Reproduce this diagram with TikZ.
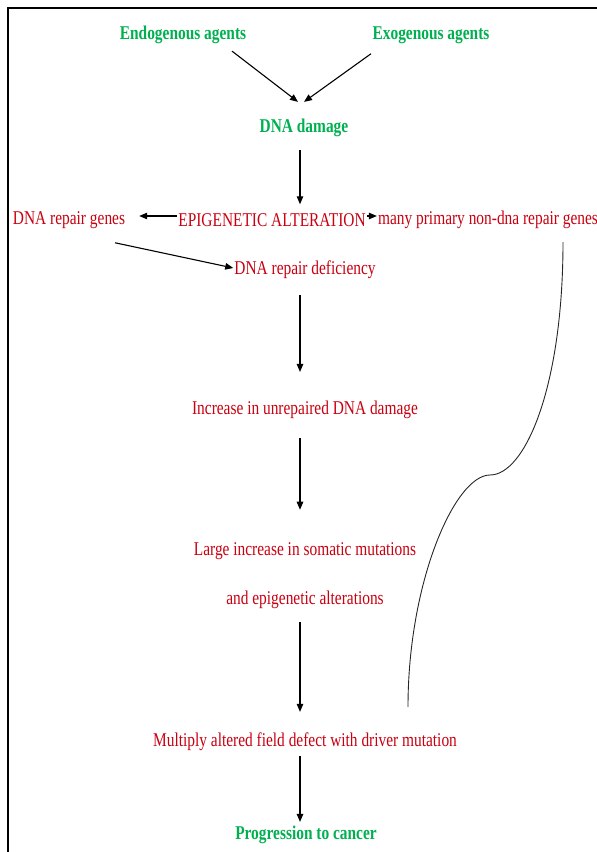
\documentclass[tikz,border=0pt]{standalone}
\usepackage{fontspec}
\setmainfont{Liberation Serif}
\newfontfamily\flowfont[FakeStretch=0.79]{Liberation Serif}
\usetikzlibrary{arrows.meta,positioning,calc}
\definecolor{agentgreen}{RGB}{0,176,80}
\definecolor{stepred}{RGB}{200,0,16}

\begin{document}
\begin{tikzpicture}[x=1pt, y=-1pt,
    font=\flowfont\fontsize{19.5}{21}\selectfont,
    txt/.style={inner sep=1pt, text=stepred},
    key/.style={inner sep=1pt, text=agentgreen, font=\flowfont\fontsize{19.5}{21}\selectfont\bfseries},
    arr/.style={-{Triangle[length=8pt, width=6.5pt]}, line width=1.1pt, black},
    link/.style={line width=0.9pt, black!85}
  ]
    \useasboundingbox (0,0) rectangle (597,852);
    \draw[line width=2pt] (8,852) -- (8,8) -- (597,8);
    % sources
    \node[key] (endo) at (183,35) {Endogenous agents};
    \node[key] (exo) at (431,35) {Exogenous agents};
    \node[key] (dmg) at (304,128) {DNA damage};
    % epigenetic row
    \node[txt] (epi) at (272,220) {EPIGENETIC ALTERATION};
    \node[txt] (rep) at (69,220) {DNA repair genes};
    \node[txt] (nondna) at (488,220) {many primary non-dna repair genes};
    % main chain
    \node[txt] (defic) at (305,270) {DNA repair deficiency};
    \node[txt] (unrep) at (305,410) {Increase in unrepaired DNA damage};
    \node[txt, align=center] (soma) at (305,576)
      {Large increase in somatic mutations\\[28pt]and epigenetic alterations};
    \node[txt] (mult) at (305,742) {Multiply altered field defect with driver mutation};
    \node[key] (prog) at (306,835) {Progression to cancer};
    \draw[arr] ($(endo.south)+(49,6)$) -- ($(dmg.north)+(-6,-16)$);
    \draw[arr] ($(exo.south)+(-60,9)$) -- ($(dmg.north)+(0,-16)$);
    \draw[arr] ($(dmg.south)+(-4,12)$) -- ($(dmg.south |- epi.north)+(-4,-8)$);
    \draw[arr] ([yshift=4pt]epi.west) -- ($(rep.east)+(13,-4)$);
    \draw[arr] ([yshift=4pt]epi.east) -- ([yshift=4pt]nondna.west);
    \draw[arr] ($(rep.south)+(46,13)$) -- ([yshift=2pt]defic.west);
    \draw[arr] ($(defic.south)+(-5,15)$) -- ($(defic.south |- unrep.north)+(-5,-28)$);
    \draw[arr] ($(unrep.south)+(-5,18)$) -- ($(unrep.south |- soma.north)+(-5,-32)$);
    \draw[arr] ($(soma.south)+(-5,12)$) -- ($(soma.south |- mult.north)+(-5,-20)$);
    \draw[arr] ($(mult.south)+(-5,4)$) -- ($(mult.south |- prog.north)+(-5,-3)$);
    % side link
    \coordinate (ctop) at ($(nondna.south)+(75,12)$);
    \coordinate (cmid) at (490,475);
    \coordinate (cbot) at ($(mult.north)+(103,-25)$);
    \draw[link] (ctop) .. controls +(0,145) and +(35,0) .. (cmid)
      .. controls +(-35,0) and +(0,-125) .. (cbot);
\end{tikzpicture}
\end{document}
